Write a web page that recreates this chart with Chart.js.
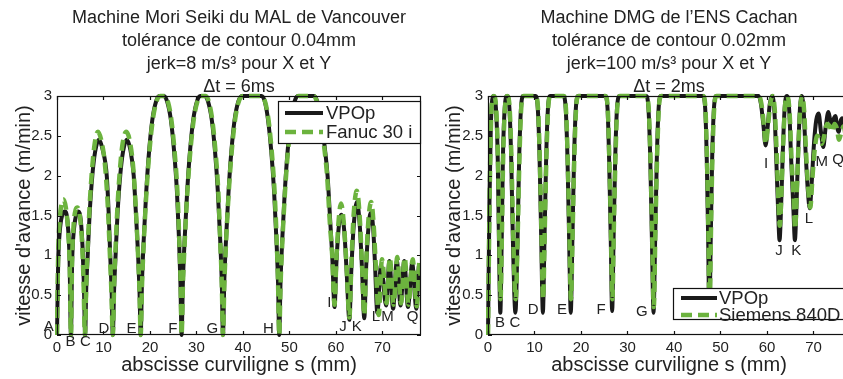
<!DOCTYPE html>
<html>
<head>
<meta charset="utf-8">
<script src="https://cdn.jsdelivr.net/npm/chart.js@4.4.1/dist/chart.umd.min.js"></script>
<style>
  html, body { margin: 0; padding: 0; background: #fff; overflow: hidden; width: 843px; height: 379px; }
  canvas { position: absolute; top: 0; }
  #left { left: 0; }
  #right { left: 430px; }
</style>
</head>
<body>
<canvas id="left" width="430" height="379"></canvas>
<canvas id="right" width="420" height="379"></canvas>
<script>
// vitesse d'avance (m/min) vs abscisse curviligne s (mm)

// --- Mori Seiki (left) : VPOp
const moriVpopS = [
  0, 0.25, 0.6, 1.1, 1.7, 2.3, 2.7, 3.0,
  3.25, 3.6, 4.1, 4.6, 5.1, 5.5, 5.8, 6.05,
  6.3, 6.6, 7.0, 7.6, 8.2, 9.0, 9.8, 10.7, 11.1, 11.45, 11.75, 12.0,
  12.3, 12.6, 13.0, 13.6, 14.2, 15.0, 15.8, 16.5, 17.0, 17.45, 17.75, 18.0,
  18.3, 18.7, 19.2, 19.8, 20.5, 21.3, 22.0, 23.0, 23.7, 24.5, 25.2, 25.8, 26.25, 26.55, 26.8,
  27.1, 27.5, 28.0, 28.6, 29.3, 30.1, 30.8, 31.8, 32.5, 33.3, 34.0, 34.6, 35.1, 35.45, 35.7,
  36.0, 36.4, 36.9, 37.5, 38.2, 39.0, 39.8, 44.0, 44.7, 45.4, 46.1, 46.7, 47.2, 47.55, 47.8,
  48.1, 48.5, 49.0, 49.6, 50.3, 51.1, 51.8, 55.3, 56.0, 56.8, 57.6, 58.2, 58.8, 59.2, 59.7,
  60.1, 60.6, 61.2, 61.8, 62.3, 62.9, 63.3, 63.8, 64.5, 65.1, 65.6, 66.1, 66.5, 67.0, 67.5, 68.0, 68.4, 68.9,
  69.7, 70.8, 71.5, 72.3, 73.1, 73.9, 74.7, 75.5, 76.4, 77.3, 77.9, 78.3
];
const moriVpopV = [
  0, 0.9, 1.3, 1.5, 1.55, 1.4, 0.95, 0,
  0.9, 1.3, 1.5, 1.55, 1.45, 1.1, 0.6, 0,
  0.6, 1.0, 1.5, 2.0, 2.3, 2.45, 2.33, 2.0, 1.55, 1.0, 0.55, 0,
  0.6, 1.0, 1.5, 2.0, 2.3, 2.45, 2.32, 2.0, 1.5, 1.0, 0.55, 0,
  0.7, 1.25, 1.8, 2.3, 2.7, 2.93, 3.0, 3.0, 2.93, 2.7, 2.3, 1.8, 1.2, 0.65, 0,
  0.7, 1.25, 1.8, 2.3, 2.7, 2.93, 3.0, 3.0, 2.93, 2.7, 2.3, 1.8, 1.2, 0.65, 0,
  0.7, 1.25, 1.8, 2.3, 2.7, 2.93, 3.0, 3.0, 2.93, 2.7, 2.3, 1.8, 1.2, 0.65, 0,
  0.7, 1.25, 1.8, 2.3, 2.7, 2.93, 3.0, 3.0, 2.93, 2.72, 2.35, 2.0, 1.4, 1.0, 0.35,
  0.9, 1.35, 1.51, 1.3, 0.8, 0.19, 0.8, 1.35, 1.67, 1.4, 0.85, 0.21, 0.85, 1.35, 1.53, 1.35, 0.9, 0.28,
  0.88, 0.37, 0.93, 0.33, 0.93, 0.37, 0.93, 0.35, 0.9, 0.33, 0.88, 0.55
];

// --- Mori Seiki (left) : Fanuc 30 i
const moriFanucS = [
  0, 0.25, 0.6, 1.0, 1.4, 1.9, 2.4, 2.75, 3.0,
  3.25, 3.6, 4.0, 4.4, 4.9, 5.4, 5.7, 6.0,
  6.3, 6.6, 7.0, 7.5, 8.1, 8.8, 9.5, 10.3, 10.9, 11.35, 11.7, 12.0,
  12.3, 12.6, 13.0, 13.5, 14.1, 14.9, 15.6, 16.4, 16.9, 17.4, 17.75, 18.0,
  18.3, 18.7, 19.2, 19.8, 20.6, 21.4, 22.2, 23.2, 23.9, 24.6, 25.3, 25.9, 26.3, 26.6, 26.8,
  27.1, 27.5, 28.0, 28.6, 29.4, 30.2, 31.0, 32.0, 32.7, 33.4, 34.1, 34.7, 35.1, 35.45, 35.7,
  36.0, 36.4, 36.9, 37.5, 38.3, 39.1, 40.0, 44.0, 44.8, 45.5, 46.2, 46.8, 47.25, 47.55, 47.8,
  48.1, 48.5, 49.0, 49.6, 50.4, 51.2, 52.0, 55.2, 55.9, 56.7, 57.5, 58.1, 58.7, 59.2, 59.7,
  60.1, 60.6, 61.1, 61.7, 62.3, 62.9, 63.3, 63.8, 64.5, 65.1, 65.6, 66.1, 66.5, 67.0, 67.6, 68.1, 68.6, 69.2,
  69.9, 70.9, 71.6, 72.4, 73.2, 74.0, 74.8, 75.6, 76.5, 77.4, 78.0, 78.3
];
const moriFanucV = [
  0, 1.0, 1.45, 1.65, 1.7, 1.6, 1.3, 0.85, 0,
  0.95, 1.4, 1.57, 1.6, 1.5, 1.15, 0.7, 0,
  0.65, 1.1, 1.6, 2.05, 2.4, 2.55, 2.45, 2.15, 1.65, 1.05, 0.55, 0,
  0.65, 1.1, 1.6, 2.05, 2.4, 2.55, 2.45, 2.1, 1.65, 1.05, 0.55, 0,
  0.65, 1.2, 1.75, 2.25, 2.7, 2.93, 3.0, 3.0, 2.92, 2.7, 2.3, 1.8, 1.2, 0.65, 0,
  0.65, 1.2, 1.75, 2.25, 2.7, 2.93, 3.0, 3.0, 2.92, 2.7, 2.3, 1.8, 1.2, 0.65, 0,
  0.65, 1.2, 1.75, 2.25, 2.7, 2.93, 3.0, 3.0, 2.92, 2.7, 2.3, 1.8, 1.2, 0.65, 0,
  0.65, 1.2, 1.75, 2.25, 2.7, 2.93, 3.0, 3.0, 2.93, 2.75, 2.35, 2.0, 1.4, 1.0, 0.38,
  0.95, 1.45, 1.65, 1.4, 0.85, 0.22, 0.85, 1.5, 1.81, 1.5, 0.9, 0.25, 0.9, 1.45, 1.67, 1.4, 0.85, 0.25,
  0.95, 0.4, 0.97, 0.38, 0.98, 0.4, 0.97, 0.38, 0.95, 0.36, 0.93, 0.6
];

// --- DMG (right) : VPOp
const dmgVpopS = [
  0, 0.3, 0.6, 0.9, 1.2, 1.7, 2.1, 2.35, 2.65, 2.95, 3.2, 3.6, 4.1,
  4.6, 5.0, 5.35, 5.9, 6.35, 6.7, 7.1, 7.6,
  10.2, 10.7, 11.1, 11.45, 11.8, 12.15, 12.5, 12.9, 13.4,
  16.2, 16.7, 17.1, 17.45, 17.8, 18.15, 18.5, 18.9, 19.4,
  25.2, 25.7, 26.05, 26.4, 26.7, 27.0, 27.35, 27.75, 28.3,
  34.0, 34.5, 34.9, 35.25, 35.6, 35.95, 36.3, 36.7, 37.2,
  46.2, 46.7, 47.05, 47.35, 47.6, 47.9, 48.2, 48.6, 49.1,
  58.2, 58.7, 59.2, 59.7, 60.2, 60.6, 61.1,
  61.6, 62.0, 62.4, 62.7, 63.0, 63.4, 63.8, 64.3,
  64.8, 65.2, 65.7, 66.0, 66.3, 66.7, 67.1, 67.5,
  67.9, 68.3, 68.8, 69.2, 69.6, 70.1, 70.6, 71.1,
  71.6, 72.1, 72.6, 73.2, 73.6, 74.0, 74.4, 74.7, 75.1, 75.4, 75.8, 76.2, 76.7, 77.2, 77.9
];
const dmgVpopV = [
  0, 1.6, 2.6, 2.95, 3.0, 2.85, 2.2, 1.2, 0.28, 1.2, 2.2, 2.85, 3.0,
  2.85, 2.2, 1.2, 0.28, 1.2, 2.2, 2.85, 3.0,
  3.0, 2.85, 2.2, 1.2, 0.28, 1.2, 2.2, 2.85, 3.0,
  3.0, 2.85, 2.2, 1.2, 0.28, 1.2, 2.2, 2.85, 3.0,
  3.0, 2.85, 2.2, 1.2, 0.3, 1.2, 2.2, 2.85, 3.0,
  3.0, 2.85, 2.2, 1.2, 0.28, 1.2, 2.2, 2.85, 3.0,
  3.0, 2.85, 2.2, 1.2, 0.22, 1.2, 2.2, 2.85, 3.0,
  3.0, 2.9, 2.65, 2.38, 2.65, 2.9, 3.0,
  2.8, 2.2, 1.55, 1.19, 1.55, 2.3, 2.85, 3.0,
  2.8, 2.2, 1.55, 1.19, 1.55, 2.3, 2.85, 3.0,
  2.8, 2.3, 1.8, 1.59, 1.9, 2.4, 2.7, 2.78,
  2.55, 2.36, 2.6, 2.8, 2.7, 2.65, 2.72, 2.75, 2.6, 2.55, 2.68, 2.72, 2.6, 2.73, 2.65
];

// --- DMG (right) : Siemens 840D
const dmgSiemensS = [
  0, 0.3, 0.6, 0.9, 1.25, 1.75, 2.15, 2.4, 2.7, 3.0, 3.25, 3.65, 4.15,
  4.65, 5.05, 5.4, 5.95, 6.4, 6.75, 7.15, 7.65,
  10.25, 10.75, 11.15, 11.5, 11.85, 12.2, 12.55, 12.95, 13.45,
  16.25, 16.75, 17.15, 17.5, 17.85, 18.2, 18.55, 18.95, 19.45,
  25.25, 25.75, 26.1, 26.45, 26.75, 27.05, 27.4, 27.8, 28.35,
  34.05, 34.55, 34.95, 35.3, 35.65, 36.0, 36.35, 36.75, 37.25,
  46.25, 46.75, 47.1, 47.4, 47.65, 47.95, 48.25, 48.65, 49.15,
  58.3, 58.8, 59.3, 59.75, 60.25, 60.7, 61.2,
  61.7, 62.1, 62.45, 62.75, 63.05, 63.45, 63.85, 64.35,
  64.85, 65.25, 65.75, 66.05, 66.35, 66.75, 67.15, 67.6,
  68.0, 68.4, 68.85, 69.3, 69.8, 70.3, 70.8, 71.3,
  71.8, 72.3, 72.9, 73.5, 74.0, 74.5, 75.0, 75.5, 76.0, 76.5, 77.0, 77.9
];
const dmgSiemensV = [
  0, 1.5, 2.55, 2.95, 3.0, 2.85, 2.2, 1.3, 0.45, 1.3, 2.2, 2.85, 3.0,
  2.85, 2.2, 1.3, 0.45, 1.3, 2.2, 2.85, 3.0,
  3.0, 2.85, 2.2, 1.3, 0.45, 1.3, 2.2, 2.85, 3.0,
  3.0, 2.85, 2.2, 1.3, 0.45, 1.3, 2.2, 2.85, 3.0,
  3.0, 2.85, 2.2, 1.3, 0.45, 1.3, 2.2, 2.85, 3.0,
  3.0, 2.85, 2.2, 1.3, 0.35, 1.3, 2.2, 2.85, 3.0,
  3.0, 2.85, 2.2, 1.3, 0.3, 1.3, 2.2, 2.85, 3.0,
  3.0, 2.9, 2.65, 2.4, 2.65, 2.9, 3.0,
  2.8, 2.25, 1.7, 1.37, 1.7, 2.35, 2.85, 3.0,
  2.8, 2.25, 1.7, 1.33, 1.7, 2.35, 2.85, 3.0,
  2.8, 2.3, 1.85, 1.6, 2.0, 2.35, 2.5, 2.45,
  2.4, 2.5, 2.65, 2.62, 2.55, 2.65, 2.6, 2.45, 2.55, 2.62, 2.5, 2.58
];

// point labels (letter, s, v)
const moriLetters = ["A", "B", "C", "D", "E", "F", "G", "H", "I", "J", "K", "L", "M", "Q"];
const moriLetterS = [-1.8, 2.9, 6.1, 10.1, 16.0, 24.9, 33.4, 45.5, 58.6, 61.5, 64.5, 68.6, 71.1, 76.5];
const moriLetterV = [0.1, -0.09, -0.09, 0.08, 0.08, 0.08, 0.08, 0.08, 0.4, 0.1, 0.1, 0.23, 0.23, 0.23];

const dmgLetters = ["B", "C", "D", "E", "F", "G", "I", "J", "K", "L", "M", "Q"];
const dmgLetterS = [2.6, 5.8, 9.7, 15.9, 24.3, 33.1, 59.8, 62.6, 66.3, 69.0, 71.8, 75.3];
const dmgLetterV = [0.15, 0.15, 0.31, 0.31, 0.31, 0.29, 2.15, 1.05, 1.05, 1.46, 2.17, 2.2];

const xTicks = [0, 10, 20, 30, 40, 50, 60, 70];
const yTicks = [0, 0.5, 1, 1.5, 2, 2.5, 3];

const BLACK = "#1a1a1a";
const GREEN = "#6cb33e";
const TEXT = "#222";

function pts(s, v) {
  return s.map((x, i) => ({ x: x, y: v[i] }));
}

function decorPlugin(o) {
  return {
    id: "decor",
    afterDraw(chart) {
      const { ctx, chartArea: { left, top, right, bottom }, scales: { x, y } } = chart;
      ctx.save();

      // box + inward ticks
      ctx.strokeStyle = "#111";
      ctx.lineWidth = 1.2;
      ctx.strokeRect(Math.round(left) + 0.5, Math.round(top) + 0.5,
        Math.round(right - left) - 1, Math.round(bottom - top) - 1);
      ctx.beginPath();
      x.ticks.forEach(t => {
        const px = Math.round(x.getPixelForValue(t.value)) + 0.5;
        ctx.moveTo(px, bottom); ctx.lineTo(px, bottom - 4);
        ctx.moveTo(px, top); ctx.lineTo(px, top + 4);
      });
      y.ticks.forEach(t => {
        const py = Math.round(y.getPixelForValue(t.value)) + 0.5;
        ctx.moveTo(left, py); ctx.lineTo(left + 4, py);
        ctx.moveTo(right, py); ctx.lineTo(right - 4, py);
      });
      ctx.stroke();

      // letters
      ctx.fillStyle = TEXT;
      ctx.font = "15px 'Liberation Sans', Arial, sans-serif";
      ctx.textAlign = "center";
      ctx.textBaseline = "middle";
      o.letters.forEach((l, i) => {
        ctx.fillText(l, x.getPixelForValue(o.letterS[i]), y.getPixelForValue(o.letterV[i]));
      });

      // legend
      const lg = o.legend;
      ctx.fillStyle = "#fff";
      ctx.fillRect(lg.x, lg.y, lg.w, lg.h);
      ctx.strokeStyle = "#111";
      ctx.lineWidth = 1.2;
      ctx.strokeRect(lg.x + 0.5, lg.y + 0.5, lg.w, lg.h);
      ctx.font = "18.5px 'Liberation Sans', Arial, sans-serif";
      ctx.textAlign = "left";
      chart.data.datasets.forEach((ds, i) => {
        const ly = lg.y + lg.rowY[i];
        ctx.strokeStyle = ds.borderColor;
        ctx.lineWidth = ds.borderWidth;
        ctx.setLineDash(ds.borderDash || []);
        ctx.beginPath();
        ctx.moveTo(lg.x + lg.sx0, ly);
        ctx.lineTo(lg.x + lg.sx1, ly);
        ctx.stroke();
        ctx.setLineDash([]);
        ctx.fillStyle = TEXT;
        ctx.fillText(ds.label, lg.x + lg.tx, ly + 1);
      });

      // title
      const cx = (left + right) / 2;
      ctx.fillStyle = TEXT;
      ctx.textAlign = "center";
      ctx.font = "18px 'Liberation Sans', Arial, sans-serif";
      o.title.forEach((t, i) => ctx.fillText(t, cx, 18 + i * 23));

      // axis titles
      ctx.font = "20px 'Liberation Sans', Arial, sans-serif";
      ctx.fillText("abscisse curviligne s (mm)", (left + right) / 2, 365);
      ctx.save();
      ctx.translate(24, (top + bottom) / 2);
      ctx.rotate(-Math.PI / 2);
      ctx.fillText("vitesse d'avance (m/min)", 0, 0);
      ctx.restore();

      ctx.restore();
    }
  };
}

function makeChart(id, o) {
  const tickFont = { family: "'Liberation Sans', Arial, sans-serif", size: 15 };
  return new Chart(document.getElementById(id), {
    type: "line",
    data: {
      datasets: [
        {
          label: "VPOp",
          data: pts(o.s1, o.v1),
          borderColor: BLACK,
          borderWidth: 4,
          pointRadius: 0,
          cubicInterpolationMode: "monotone",
          order: 2,
          clip: { left: 2, top: 5, right: 0, bottom: 5 }
        },
        {
          label: o.label2,
          data: pts(o.s2, o.v2),
          borderColor: GREEN,
          borderWidth: 4.5,
          borderDash: [11, 6],
          pointRadius: 0,
          cubicInterpolationMode: "monotone",
          order: 1,
          clip: { left: 2, top: 5, right: 0, bottom: 5 }
        }
      ]
    },
    options: {
      responsive: false,
      animation: false,
      devicePixelRatio: 1,
      layout: { padding: { top: 96, right: o.padRight, left: 0, bottom: 0 } },
      plugins: { legend: { display: false }, tooltip: { enabled: false } },
      scales: {
        x: {
          type: "linear",
          min: 0,
          max: o.xMax,
          afterFit: s => { s.height = 44; },
          afterBuildTicks: s => { s.ticks = xTicks.map(v => ({ value: v })); },
          ticks: { font: tickFont, color: TEXT, padding: 4, maxRotation: 0, callback: v => String(v) },
          grid: { display: false, drawTicks: false, tickLength: 0 },
          border: { display: false }
        },
        y: {
          min: 0,
          max: 3,
          afterFit: s => { s.width = o.yWidth; },
          afterBuildTicks: s => { s.ticks = yTicks.map(v => ({ value: v })); },
          ticks: { font: tickFont, color: TEXT, padding: 5, callback: v => String(v) },
          grid: { display: false, drawTicks: false, tickLength: 0 },
          border: { display: false }
        }
      }
    },
    plugins: [decorPlugin(o)]
  });
}

makeChart("left", {
  s1: moriVpopS, v1: moriVpopV, s2: moriFanucS, v2: moriFanucV,
  label2: "Fanuc 30 i",
  xMax: 78.3, yWidth: 57, padRight: 9,
  letters: moriLetters, letterS: moriLetterS, letterV: moriLetterV,
  legend: { x: 278, y: 101, w: 142, h: 42, rowY: [12, 31], sx0: 7, sx1: 45, tx: 48 },
  title: [
    "Machine Mori Seiki du MAL de Vancouver",
    "tolérance de contour 0.04mm",
    "jerk=8 m/s³ pour X et Y",
    "Δt = 6ms"
  ]
});

makeChart("right", {
  s1: dmgVpopS, v1: dmgVpopV, s2: dmgSiemensS, v2: dmgSiemensV,
  label2: "Siemens 840D",
  xMax: 77.85, yWidth: 58, padRight: 0,
  letters: dmgLetters, letterS: dmgLetterS, letterV: dmgLetterV,
  legend: { x: 243, y: 288, w: 200, h: 31, rowY: [10, 27], sx0: 8, sx1: 44, tx: 46 },
  title: [
    "Machine DMG de l’ENS Cachan",
    "tolérance de contour 0.02mm",
    "jerk=100 m/s³ pour X et Y",
    "Δt = 2ms"
  ]
});
</script>
</body>
</html>
